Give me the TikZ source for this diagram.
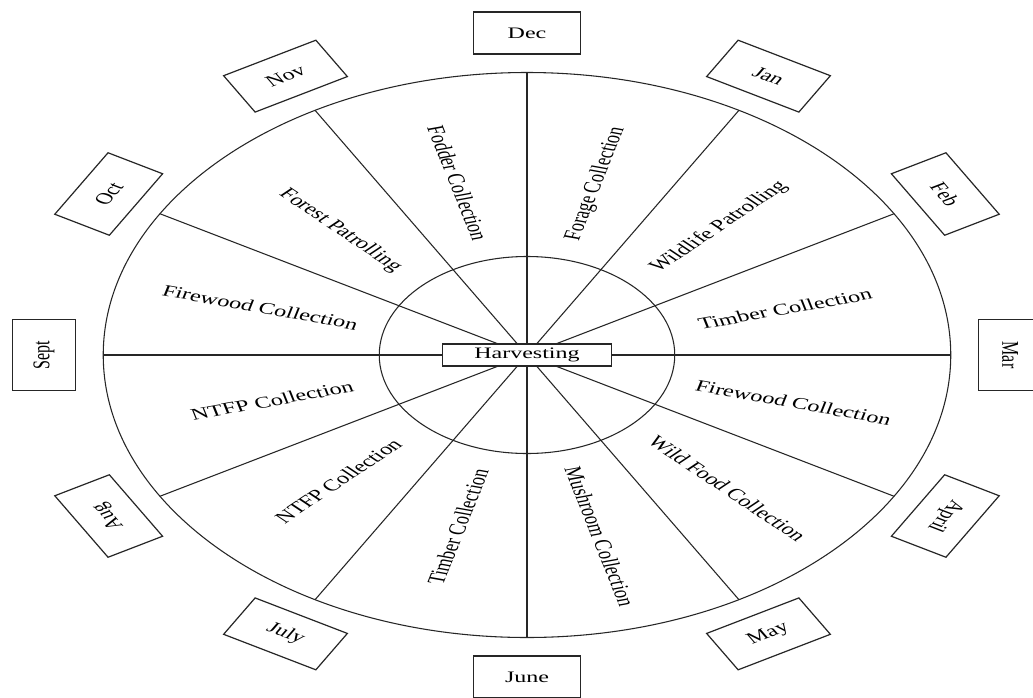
\documentclass[tikz,border=0pt]{standalone}
\usepackage{fontspec}
\setmainfont{Liberation Serif}
\begin{document}
\begin{tikzpicture}[x=0.75pt,y=0.75pt,xscale=1.5,
  line/.style={draw=black!85, line width=0.8pt},
  month/.style={draw=black!85, line width=0.9pt, fill=white, minimum width=53.25pt, minimum height=31.5pt, inner sep=0pt, transform shape, font=\fontsize{12}{14}\selectfont},
  sector/.style={transform shape, inner sep=0pt, font=\fontsize{12.2}{14}\selectfont}]
\fill[white] (-351.33,-342) rectangle (337.33,355);
\useasboundingbox (-351.33,-342) rectangle (337.33,355);
\coordinate (c) at (0,0);
\foreach \a in {0,30,...,330} {
  \coordinate (p\a) at (\a:282.5);
  \draw[line] (c) -- (p\a);
}
\draw[line] (c) circle (282.5);
\draw[line] (c) circle (98.5);
\node[draw=black!85, line width=0.8pt, fill=white, minimum width=84.75pt, minimum height=16.5pt, inner sep=0pt, transform shape, font=\fontsize{12}{14}\selectfont] (h) at (c) {Harvesting};
% months
\node[month, rotate=0]    (dec)  at (90:322)   {Dec};
\node[month, rotate=-30]  (jan)  at (60:322)   {Jan};
\node[month, rotate=-60]  (feb)  at (30:322)   {Feb};
\node[month, rotate=-90]  (mar)  at (0:322)    {Mar};
\node[month, rotate=-120] (apr)  at (-30:322)  {April};
\node[month, rotate=30]   (may)  at (-60:322)  {May};
\node[month, rotate=0]    (jun)  at (-90:322)  {June};
\node[month, rotate=-30]  (jul)  at (-120:322) {July};
\node[month, rotate=120]  (aug)  at (-150:322) {Aug};
\node[month, rotate=90]   (sep)  at (180:322)  {Sept};
\node[month, rotate=60]   (oct)  at (150:322)  {Oct};
\node[month, rotate=30]   (nov)  at (120:322)  {Nov};
% sector labels
\node[sector, rotate=15]  (s1)  at (15:178)  {Timber Collection};
\node[sector, rotate=45]  (s2)  at (45:181)  {Wildlife Patrolling};
\node[sector, rotate=75]  (s3)  at (75:177)  {Forage Collection};
\node[sector, rotate=-75] (s4)  at (105:178) {Fodder Collection};
\node[sector, rotate=-45] (s5)  at (135:176) {Forest Patrolling};
\node[sector, rotate=-15] (s6)  at (165:184) {Firewood Collection};
\node[sector, rotate=15]  (s7)  at (195:176) {NTFP Collection};
\node[sector, rotate=45]  (s8)  at (225:178) {NTFP Collection};
\node[sector, rotate=75]  (s9)  at (255:178) {Timber Collection};
\node[sector, rotate=-75] (s10) at (285:188) {Mushroom Collection};
\node[sector, rotate=-45] (s11) at (315:189) {Wild Food Collection};
\node[sector, rotate=-15] (s12) at (345:184) {Firewood Collection};
\end{tikzpicture}
\end{document}
